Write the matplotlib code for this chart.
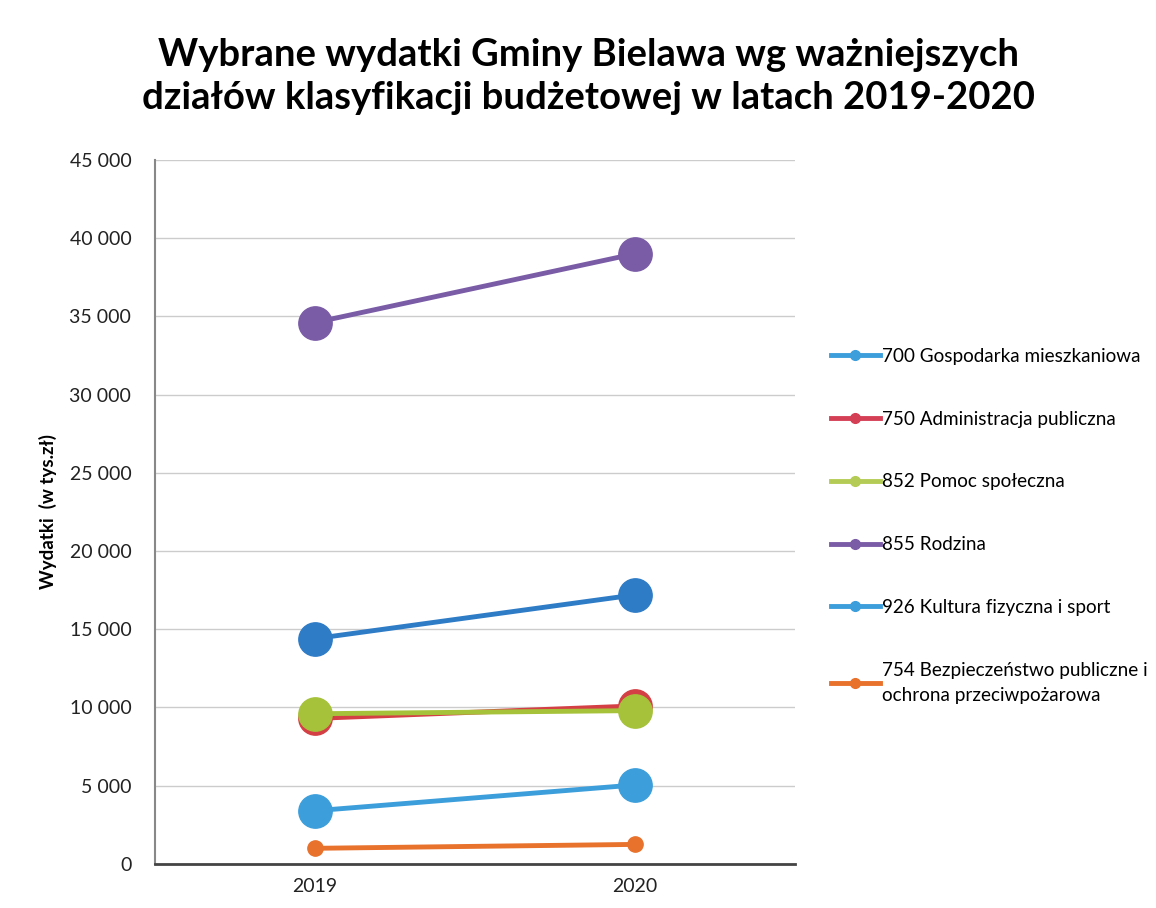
import matplotlib.pyplot as plt
from matplotlib.ticker import FuncFormatter

years = ["2019", "2020"]
series_names = [
    "700 Gospodarka mieszkaniowa",
    "750 Administracja publiczna",
    "852 Pomoc społeczna",
    "855 Rodzina",
    "926 Kultura fizyczna i sport",
    "754 Bezpieczeństwo publiczne i\nochrona przeciwpożarowa",
]
v700 = [14400, 17200]
v750 = [9300, 10100]
v852 = [9600, 9800]
v855 = [34600, 39000]
v926 = [3400, 5050]
v754 = [1000, 1250]
values = [v700, v750, v852, v855, v926, v754]

colors = ["#2E7BC6", "#D43F45", "#A6C23A", "#7A5BA6", "#3C9EDB", "#E8712C"]
marker_sizes = [24, 24, 24, 24, 24, 11]
legend_colors = ["#3C9EDB", "#D43F55", "#B4CC55", "#7A5BA6", "#3C9EDB", "#E8712C"]

plt.rcParams["font.family"] = ["Lato", "DejaVu Sans"]

fig = plt.figure(figsize=(11.56, 9.08), dpi=100)
ax = fig.add_axes([0.134, 0.0485, 0.554, 0.7755])

x = list(range(len(years)))
for name, vals, c, ms in zip(series_names, values, colors, marker_sizes):
    ax.plot(x, vals, color=c, lw=3.5, marker="o", markersize=ms, zorder=3)

ax.set_xlim(-0.5, 1.5)
ax.set_ylim(0, 45000)
ax.set_yticks(range(0, 45001, 5000))
ax.yaxis.set_major_formatter(FuncFormatter(lambda v, p: f"{int(v):,}".replace(",", " ")))
ax.set_xticks(x)
ax.set_xticklabels(years)
ax.tick_params(axis="both", length=0, labelsize=14, colors="#222222", pad=10)
ax.tick_params(axis="y", labelsize=14, pad=17)
ax.grid(axis="y", color="#cccccc", lw=1)
ax.set_axisbelow(True)
for s in ["top", "right"]:
    ax.spines[s].set_visible(False)
ax.spines["left"].set_color("#888888")
ax.spines["left"].set_linewidth(1.5)
ax.spines["bottom"].set_color("#444444")
ax.spines["bottom"].set_linewidth(2)

ax.set_ylabel("Wydatki  (w tys.zł)", fontsize=13.5, fontweight="bold", labelpad=9)

fig.suptitle("Wybrane wydatki Gminy Bielawa wg ważniejszych\ndziałów klasyfikacji budżetowej w latach 2019-2020",
             x=0.509, y=0.958, fontsize=27.5, fontweight="bold", linespacing=1.3)

handles = [plt.Line2D([], [], color=c, lw=3.5, marker="o", markersize=7) for c in legend_colors]
leg = fig.legend(handles, series_names, loc="upper left", bbox_to_anchor=(0.712, 0.625),
                 frameon=False, fontsize=13.6, handlelength=2.6, handletextpad=0.1,
                 labelspacing=2.42, borderaxespad=0)
leg.get_texts()[-1].set_linespacing(1.6)

fig.savefig("out.png", dpi=100)
